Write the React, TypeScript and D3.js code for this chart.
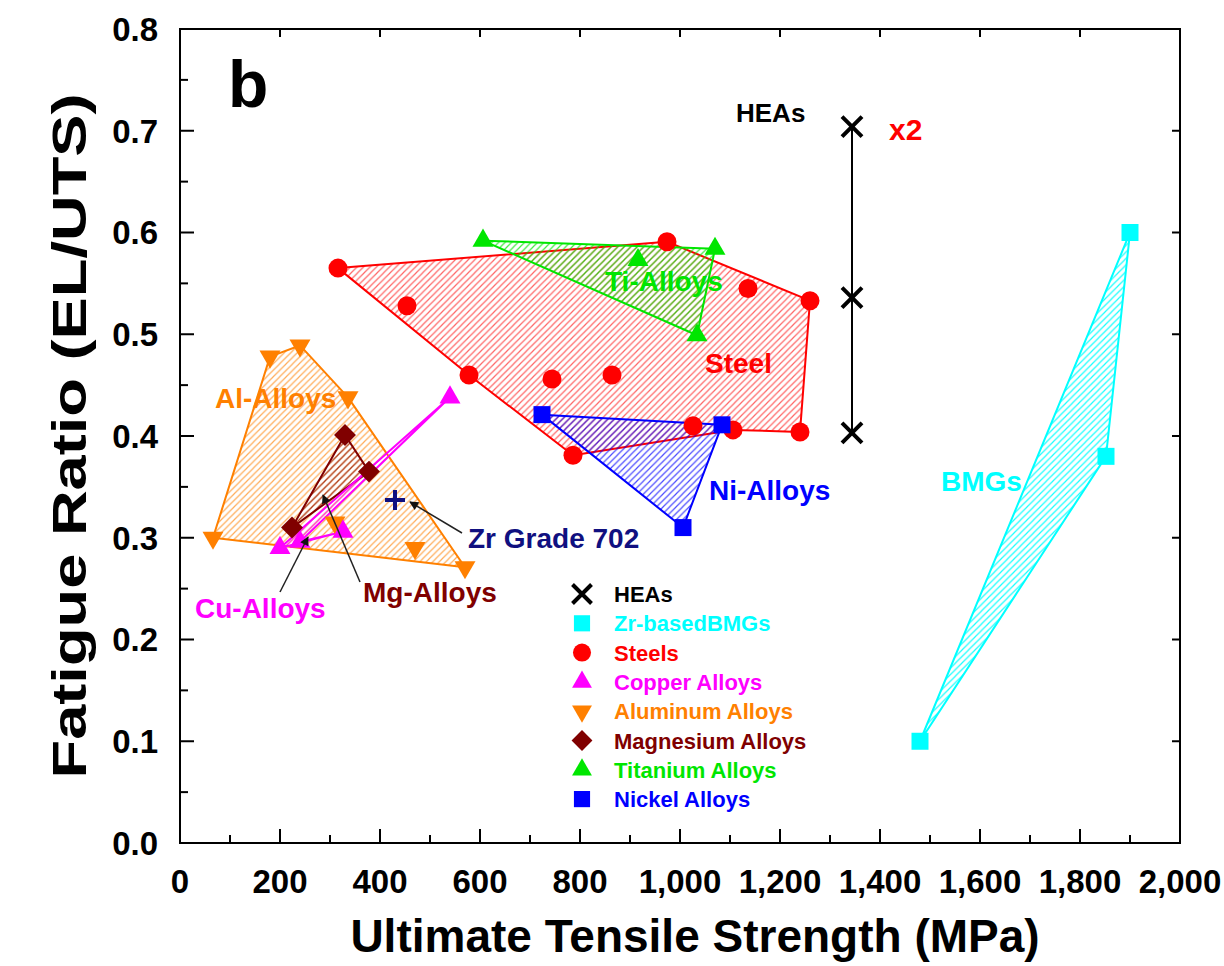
import React from 'react';
import * as d3 from 'd3';

const W = 1224, H = 966;
const PL = 180, PR = 1180, PT = 29, PB = 843;

// ---------------- data ----------------
const xTicks = [0, 200, 400, 600, 800, 1000, 1200, 1400, 1600, 1800, 2000];
const yTicks = [0, 0.1, 0.2, 0.3, 0.4, 0.5, 0.6, 0.7, 0.8];

const heaUTS = [1344, 1344, 1344];
const heaRatio = [0.704, 0.536, 0.403];

const bmgUTS = [1480, 1852, 1900];
const bmgRatio = [0.100, 0.380, 0.600];
const bmgHull = [0, 1, 2];

const steelUTS = [316, 974, 1260, 1240, 1106, 786, 578, 454, 744, 864, 1136, 1026];
const steelRatio = [0.565, 0.591, 0.533, 0.404, 0.406, 0.381, 0.460, 0.528, 0.456, 0.460, 0.545, 0.410];
const steelHull = [0, 1, 2, 3, 4, 5, 6];

const tiUTS = [606, 1070, 1034, 916];
const tiRatio = [0.592, 0.584, 0.499, 0.573];
const tiHull = [0, 1, 2];

const niUTS = [724, 1084, 1006];
const niRatio = [0.421, 0.411, 0.310];
const niHull = [0, 1, 2];

const alUTS = [240, 336, 570, 66, 180, 310, 470];
const alRatio = [0.489, 0.438, 0.271, 0.300, 0.478, 0.315, 0.290];
const alHull = [0, 1, 2, 3, 4];

const cuUTS = [200, 540, 240, 326];
const cuRatio = [0.290, 0.438, 0.296, 0.306];
const cuHull = [0, 1, 2, 3];

const mgUTS = [330, 378, 224];
const mgRatio = [0.401, 0.365, 0.310];
const mgHull = [0, 1, 2];

const zrUTS = [430];
const zrRatio = [0.337];

const legendNames = ['HEAs', 'Zr-basedBMGs', 'Steels', 'Copper Alloys', 'Aluminum Alloys', 'Magnesium Alloys', 'Titanium Alloys', 'Nickel Alloys'];

// ---------------- styles ----------------
const C = {
  hea: '#000000', bmg: '#00ffff', steel: '#ff0000', cu: '#ff00ff', al: '#ff8000',
  mg: '#800000', ti: '#00e600', ni: '#0000ff', zr: '#101080',
};
const FONT = '"Liberation Sans", Arial, Helvetica, sans-serif';

const x = d3.scaleLinear().domain([0, 2000]).range([PL, PR]);
const y = d3.scaleLinear().domain([0, 0.8]).range([PB, PT]);

type Kind = 'x' | 'square' | 'circle' | 'up' | 'down' | 'diamond' | 'plus';

function marker(kind: Kind, cx: number, cy: number, color: string, s = 1, key?: any) {
  if (kind === 'x' || kind === 'plus') {
    const r = 10 * s;
    const d = kind === 'x'
      ? `M${-r},${-r}L${r},${r}M${-r},${r}L${r},${-r}`
      : `M${-r},0L${r},0M0,${-r}L0,${r}`;
    return <path key={key} d={d} transform={`translate(${cx},${cy})`} stroke={color} strokeWidth={4} fill="none" strokeLinecap="butt" />;
  }
  let gen: any, size = 0, rot = 0;
  if (kind === 'square') { gen = d3.symbolSquare; size = 17 * 17 * s * s; }
  if (kind === 'circle') { gen = d3.symbolCircle; size = Math.PI * 9.5 * 9.5 * s * s; }
  if (kind === 'up') { gen = d3.symbolTriangle; size = 190 * s * s; }
  if (kind === 'down') { gen = d3.symbolTriangle; size = 190 * s * s; rot = 180; }
  if (kind === 'diamond') { gen = d3.symbolSquare; size = 15.5 * 15.5 * s * s; rot = 45; }
  const d = d3.symbol().type(gen).size(size)()!;
  return <path key={key} d={d} transform={`translate(${cx},${cy}) rotate(${rot})`} fill={color} />;
}

function Region({ xs, ys, hull, color, id, sw = 2 }: any) {
  const pts: [number, number][] = hull.map((i: number) => [x(xs[i]), y(ys[i])]);
  const line = d3.line().curve(d3.curveLinearClosed);
  return <path d={line(pts)!} fill={`url(#${id})`} stroke={color} strokeWidth={sw} strokeLinejoin="round" />;
}

function Marks({ xs, ys, kind, color }: any) {
  return <g>{xs.map((v: number, i: number) => marker(kind, x(v), y(ys[i]), color, 1, i))}</g>;
}

function Hatch({ id, color, op = 0.75 }: any) {
  const t = 6.5;
  return (
    <pattern id={id} patternUnits="userSpaceOnUse" width={t} height={t}>
      <path d={`M0,${t}L${t},0M${-t / 2},${t / 2}L${t / 2},${-t / 2}M${t / 2},${t * 1.5}L${t * 1.5},${t / 2}`}
        stroke={color} strokeWidth={1.2} strokeOpacity={op} />
    </pattern>
  );
}

export default function App() {
  const xMinor = d3.range(0, 2001, 100);
  const yMinor = d3.range(0, 0.8001, 0.05);
  const fmtX = d3.format(',');
  const fmtY = d3.format('.1f');

  const legendKinds: Kind[] = ['x', 'square', 'circle', 'up', 'down', 'diamond', 'up', 'square'];
  const legendColors = [C.hea, C.bmg, C.steel, C.cu, C.al, C.mg, C.ti, C.ni];

  const arrows = [
    { from: [462, 533], to: [410, 502] },
    { from: [360, 582], to: [323, 495] },
    { from: [280, 592], to: [308, 537] },
  ];

  return (
    <svg width={W} height={H} style={{ position: 'absolute', left: 0, top: 0, background: '#fff' }} fontFamily={FONT}>
      <defs>
        <Hatch id="hSteel" color={C.steel} op={0.6} />
        <Hatch id="hTi" color={C.ti} op={0.75} />
        <Hatch id="hNi" color={C.ni} op={0.7} />
        <Hatch id="hAl" color={C.al} op={0.65} />
        <Hatch id="hCu" color={C.cu} op={0.7} />
        <Hatch id="hMg" color={C.mg} op={0.65} />
        <Hatch id="hBmg" color={C.bmg} op={0.9} />
        <marker id="arr" viewBox="0 0 10 10" refX="9" refY="5" markerWidth="11" markerHeight="9" markerUnits="userSpaceOnUse" orient="auto">
          <path d="M0,0L10,5L0,10z" fill="#111" />
        </marker>
      </defs>
      <rect x={0} y={0} width={W} height={H} fill="#fff" />

      {/* regions */}
      <Region xs={steelUTS} ys={steelRatio} hull={steelHull} color={C.steel} id="hSteel" />
      <Region xs={tiUTS} ys={tiRatio} hull={tiHull} color={C.ti} id="hTi" />
      <Region xs={niUTS} ys={niRatio} hull={niHull} color={C.ni} id="hNi" />
      <Region xs={alUTS} ys={alRatio} hull={alHull} color={C.al} id="hAl" />
      <Region xs={mgUTS} ys={mgRatio} hull={mgHull} color={C.mg} id="hMg" />
      <Region xs={cuUTS} ys={cuRatio} hull={cuHull} color={C.cu} id="hCu" />
      <Region xs={bmgUTS} ys={bmgRatio} hull={bmgHull} color={C.bmg} id="hBmg" />

      {/* HEA line */}
      <line x1={x(heaUTS[0])} x2={x(heaUTS[2])} y1={y(d3.max(heaRatio)!)} y2={y(d3.min(heaRatio)!)} stroke="#000" strokeWidth={2} />

      {/* markers */}
      <Marks xs={steelUTS} ys={steelRatio} kind="circle" color={C.steel} />
      <Marks xs={tiUTS} ys={tiRatio} kind="up" color={C.ti} />
      <Marks xs={niUTS} ys={niRatio} kind="square" color={C.ni} />
      <Marks xs={alUTS} ys={alRatio} kind="down" color={C.al} />
      <Marks xs={cuUTS} ys={cuRatio} kind="up" color={C.cu} />
      <Marks xs={mgUTS} ys={mgRatio} kind="diamond" color={C.mg} />
      <Marks xs={bmgUTS} ys={bmgRatio} kind="square" color={C.bmg} />
      <Marks xs={heaUTS} ys={heaRatio} kind="x" color={C.hea} />
      <Marks xs={zrUTS} ys={zrRatio} kind="plus" color={C.zr} />

      {/* arrows */}
      {arrows.map((a, i) => (
        <line key={i} x1={a.from[0]} y1={a.from[1]} x2={a.to[0]} y2={a.to[1]} stroke="#222" strokeWidth={1.5} markerEnd="url(#arr)" />
      ))}

      {/* region labels */}
      <g fontWeight="bold" fontSize={28}>
        <text x={605} y={291} fill={C.ti}>Ti-Alloys</text>
        <text x={705} y={373} fill={C.steel}>Steel</text>
        <text x={215} y={408} fill={C.al}>Al-Alloys</text>
        <text x={709} y={500} fill={C.ni}>Ni-Alloys</text>
        <text x={941} y={491} fill={C.bmg}>BMGs</text>
        <text x={468} y={548} fill={C.zr}>Zr Grade 702</text>
        <text x={195} y={618} fill={C.cu}>Cu-Alloys</text>
        <text x={363} y={602} fill={C.mg}>Mg-Alloys</text>
        <text x={736} y={122} fill="#000" fontSize={26}>HEAs</text>
        <text x={889} y={140} fill="#ff0000" fontSize={30}>x2</text>
      </g>
      <text x={228} y={107} fontWeight="bold" fontSize={66} fill="#000">b</text>

      {/* legend */}
      <g fontWeight="bold" fontSize={22}>
        {legendNames.map((n, i) => {
          const ly = 594 + i * 29.3;
          return (
            <g key={n}>
              {marker(legendKinds[i], 582, ly, legendColors[i], 0.95)}
              <text x={614} y={ly + 8} fill={legendColors[i]}>{n}</text>
            </g>
          );
        })}
      </g>

      {/* axes frame */}
      <rect x={PL} y={PT} width={PR - PL} height={PB - PT} fill="none" stroke="#000" strokeWidth={2} />
      {xMinor.map(v => {
        const major = v % 200 === 0;
        return (
          <g key={'x' + v}>
            <line x1={x(v)} x2={x(v)} y1={PB} y2={PB - (major ? 14 : 8)} stroke="#000" strokeWidth={2} />
            {major && <line x1={x(v)} x2={x(v)} y1={PT} y2={PT + 8} stroke="#000" strokeWidth={2} />}
          </g>
        );
      })}
      {yMinor.map((v, i) => {
        const major = i % 2 === 0;
        return (
          <g key={'y' + i}>
            <line x1={PL} x2={PL + (major ? 14 : 8)} y1={y(v)} y2={y(v)} stroke="#000" strokeWidth={2} />
            {major && <line x1={PR} x2={PR - 8} y1={y(v)} y2={y(v)} stroke="#000" strokeWidth={2} />}
          </g>
        );
      })}
      <g fontWeight="bold" fontSize={33} fill="#000">
        {xTicks.map(v => (
          <text key={'xl' + v} x={x(v)} y={893} textAnchor="middle">{fmtX(v)}</text>
        ))}
        {yTicks.map(v => (
          <text key={'yl' + v} x={158} y={y(v)} dy="0.36em" textAnchor="end">{fmtY(v)}</text>
        ))}
      </g>
      <text x={695} y={952} textAnchor="middle" fontWeight="bold" fontSize={46}>Ultimate Tensile Strength (MPa)</text>
      <text transform={`translate(86,${(PT + PB) / 2}) rotate(-90)`} textAnchor="middle" fontWeight="bold" fontSize={48}
        textLength={685} lengthAdjust="spacingAndGlyphs">Fatigue Ratio (EL/UTS)</text>
    </svg>
  );
}
